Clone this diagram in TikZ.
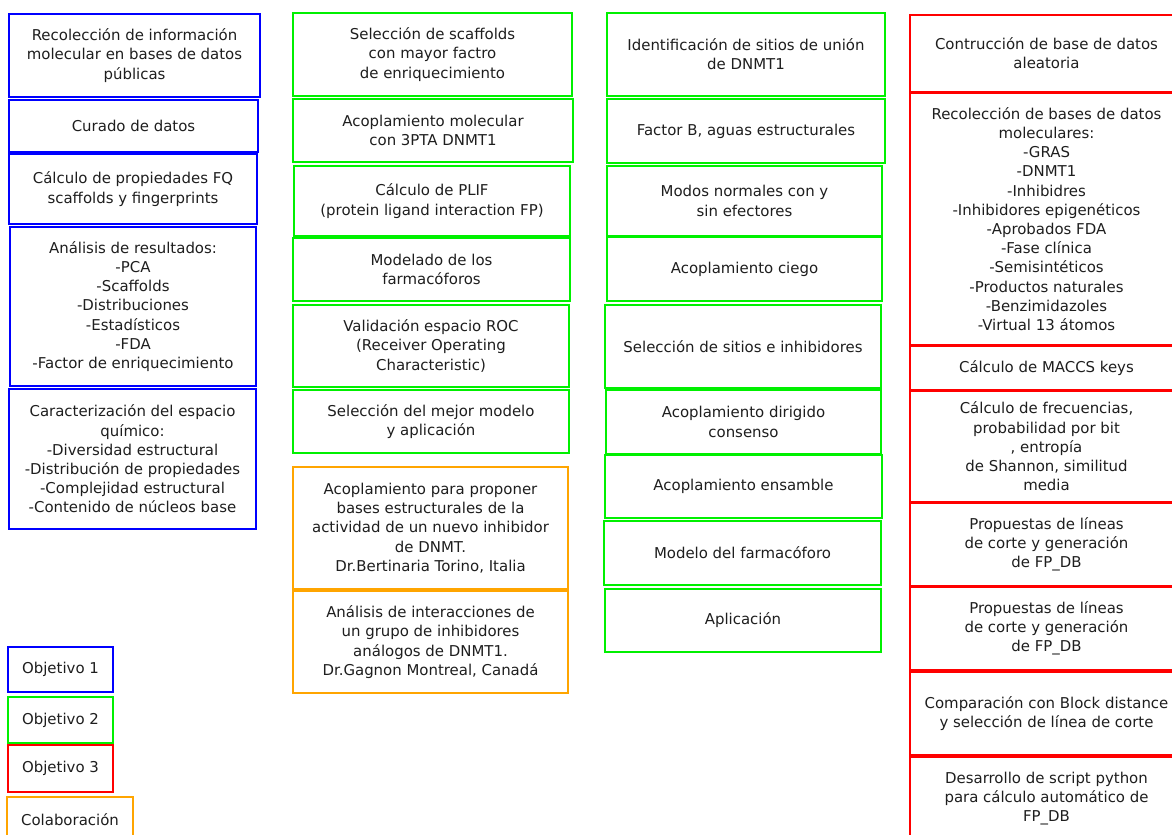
\documentclass[tikz,border=0pt]{standalone}
\usepackage{fontspec}
\setmainfont{DejaVu Sans}
\definecolor{cblue}{RGB}{0,0,255}
\definecolor{cgreen}{RGB}{0,240,0}
\definecolor{cred}{RGB}{255,0,0}
\definecolor{corange}{RGB}{255,165,0}
\definecolor{ctext}{RGB}{30,30,30}
\newcommand\bx[7]{\node[bx,draw=#6,minimum width={(#4-#2)*0.75pt},minimum height={(#5-#3)*0.75pt}] (#1) at ({(#2+#4)/2},{(#3+#5)/2}) {#7};}
\tikzset{bx/.style={rectangle,line width=1.5pt,inner sep=0pt,outer sep=0pt,align=center,text=ctext,font=\fontsize{11.2pt}{14.4pt}\selectfont}}
\begin{document}
\begin{tikzpicture}[x=0.75pt,y=-0.75pt]
\useasboundingbox[fill=white] (0,0) rectangle (1172,835);
\clip (0,0) rectangle (1172,835);
% column 1
\bx{b1}{9}{14}{260}{97}{cblue}{Recolección de información\\molecular en bases de datos\\públicas}
\bx{b2}{9}{100}{258}{152}{cblue}{Curado de datos}
\bx{b3}{9}{154}{257}{224}{cblue}{Cálculo de propiedades FQ\\scaffolds y fingerprints}
\bx{b4}{10}{227}{256}{386}{cblue}{Análisis de resultados:\\-PCA\\-Scaffolds\\-Distribuciones\\-Estadísticos\\-FDA\\-Factor de enriquecimiento}
\bx{b5}{9}{389}{256}{529}{cblue}{Caracterización del espacio\\químico:\\-Diversidad estructural\\-Distribución de propiedades\\-Complejidad estructural\\-Contenido de núcleos base}
% column 2
\bx{g1}{293}{13}{572}{96}{cgreen}{Selección de scaffolds\\con mayor factro\\de enriquecimiento}
\bx{g2}{293}{99}{573}{162}{cgreen}{Acoplamiento molecular\\con 3PTA DNMT1}
\bx{g3}{294}{166}{570}{236}{cgreen}{Cálculo de PLIF\\(protein ligand interaction FP)}
\bx{g4}{293}{238}{570}{301}{cgreen}{Modelado de los\\farmacóforos}
\bx{g5}{293}{305}{569}{387}{cgreen}{Validación espacio ROC\\(Receiver Operating\\Characteristic)}
\bx{g6}{293}{390}{569}{453}{cgreen}{Selección del mejor modelo\\y aplicación}
\bx{o1}{293}{467}{568}{589}{corange}{Acoplamiento para proponer\\bases estructurales de la\\actividad de un nuevo inhibidor\\de DNMT.\\Dr.Bertinaria Torino, Italia}
\bx{o2}{293}{591}{568}{693}{corange}{Análisis de interacciones de\\un grupo de inhibidores\\análogos de DNMT1.\\Dr.Gagnon Montreal, Canadá}
% column 3
\bx{h1}{607}{13}{885}{96}{cgreen}{Identificación de sitios de unión\\de DNMT1}
\bx{h2}{607}{99}{885}{163}{cgreen}{Factor B, aguas estructurales}
\bx{h3}{607}{166}{882}{236}{cgreen}{Modos normales con y\\sin efectores}
\bx{h4}{607}{237}{882}{301}{cgreen}{Acoplamiento ciego}
\bx{h5}{605}{305}{881}{388}{cgreen}{Selección de sitios e inhibidores}
\bx{h6}{606}{390}{881}{454}{cgreen}{Acoplamiento dirigido\\consenso}
\bx{h7}{605}{455}{882}{518}{cgreen}{Acoplamiento ensamble}
\bx{h8}{604}{521}{881}{585}{cgreen}{Modelo del farmacóforo}
\bx{h9}{605}{589}{881}{652}{cgreen}{Aplicación}
% column 4
\bx{r1}{910}{15}{1183}{92}{cred}{Contrucción de base de datos\\aleatoria}
\bx{r2}{910}{93}{1183}{345}{cred}{Recolección de bases de datos\\moleculares:\\-GRAS\\-DNMT1\\-Inhibidres\\-Inhibidores epigenéticos\\-Aprobados FDA\\-Fase clínica\\-Semisintéticos\\-Productos naturales\\-Benzimidazoles\\-Virtual 13 átomos}
\bx{r3}{910}{346}{1183}{390}{cred}{Cálculo de MACCS keys}
\bx{r4}{910}{391}{1183}{502}{cred}{Cálculo de frecuencias,\\probabilidad por bit\\, entropía\\de Shannon, similitud\\media}
\bx{r5}{910}{503}{1183}{586}{cred}{Propuestas de líneas\\de corte y generación\\de FP\_DB}
\bx{r6}{910}{587}{1183}{670}{cred}{Propuestas de líneas\\de corte y generación\\de FP\_DB}
\bx{r7}{910}{672}{1183}{755}{cred}{Comparación con Block distance\\y selección de línea de corte}
\bx{r8}{910}{757}{1183}{840}{cred}{Desarrollo de script python\\para cálculo automático de\\FP\_DB}
% legend
\bx{l1}{8}{647}{113}{692}{cblue}{Objetivo 1}
\bx{l2}{8}{697}{113}{743}{cgreen}{Objetivo 2}
\bx{l3}{8}{745}{113}{792}{cred}{Objetivo 3}
\bx{l4}{7}{797}{133}{842}{corange}{Colaboración}
\end{tikzpicture}
\end{document}
